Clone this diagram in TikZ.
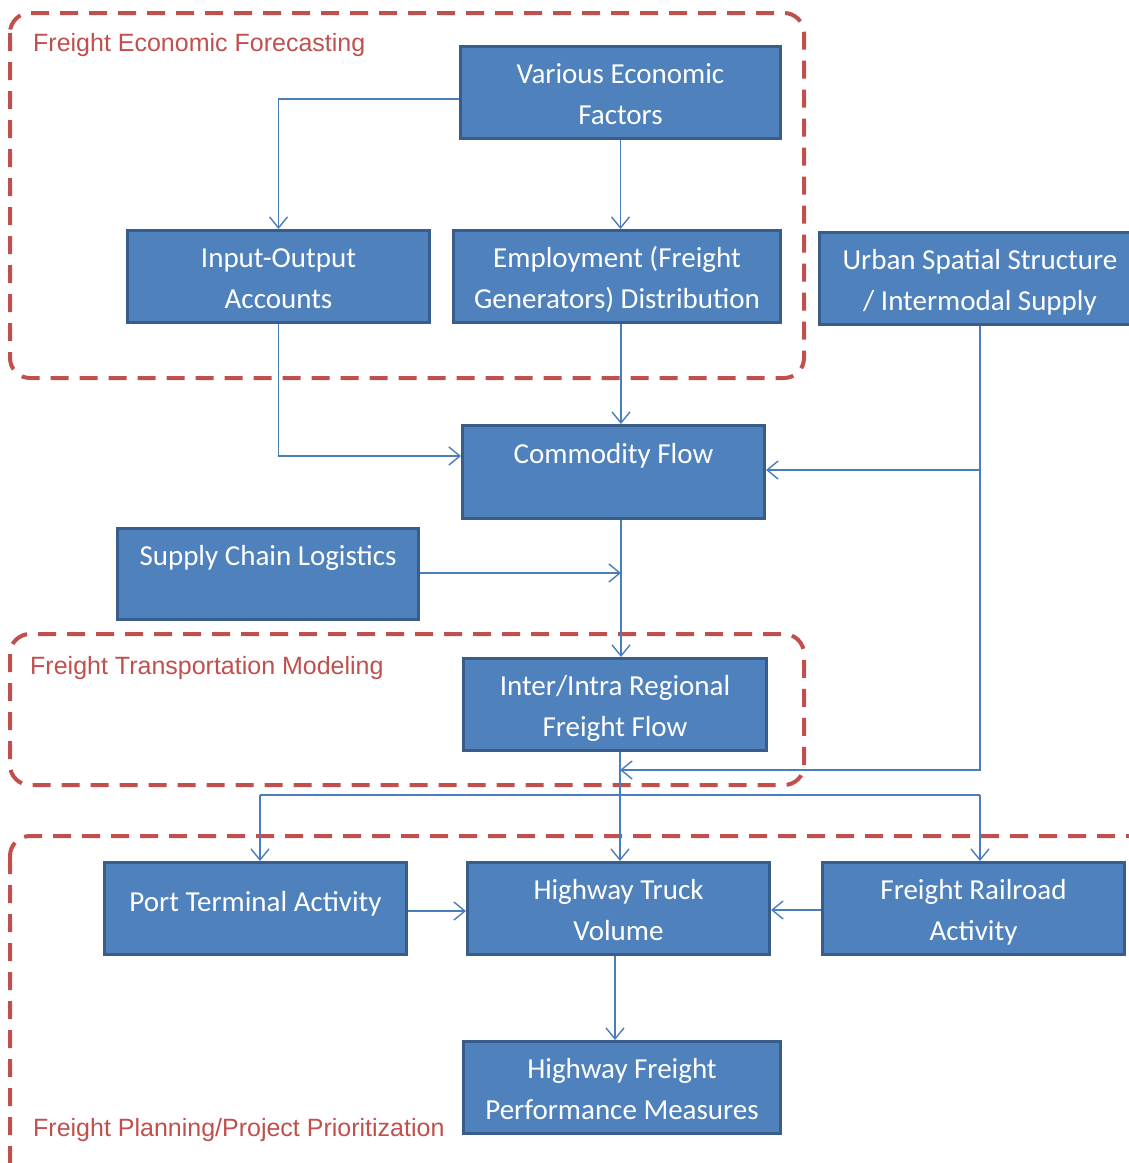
\documentclass[tikz,border=0pt]{standalone}
\usepackage{fontspec}
\setmainfont{Carlito}
\newfontfamily\labfont{Liberation Sans}
\usetikzlibrary{arrows.meta}
\definecolor{boxfill}{HTML}{4F81BD}
\definecolor{boxline}{HTML}{385D8A}
\definecolor{conncol}{HTML}{4A7EBB}
\definecolor{redd}{HTML}{C0504D}
\newcommand\toprl{\rule{0pt}{32pt}}
\newcommand\botrl{\rule[-9pt]{0pt}{0pt}}
\tikzset{
  fbox/.style={draw=boxline, fill=boxfill, line width=3pt, text=white, inner sep=0pt,
    align=center, font=\fontsize{29}{41}\selectfont},
  conn/.style={draw=conncol, line width=1.4pt, -{Straight Barb[length=11pt,width=18pt,line width=1.4pt]}},
  plain/.style={draw=conncol, line width=1.4pt},
  region/.style={draw=redd, line width=4pt, dash pattern=on 18pt off 11pt, rounded corners=20pt},
  reglab/.style={text=redd, font=\labfont\fontsize{25}{30}\selectfont, anchor=base west, inner sep=0pt}
}
\begin{document}
\begin{tikzpicture}[x=1pt,y=-1pt]
\useasboundingbox (0,0) rectangle (1129,1163);
\clip (0,0) rectangle (1129,1163);
\fill[white] (0,0) rectangle (1129,1163);

% regions
\draw[region] (10,13) rectangle (804,378);
\draw[region] (10,634) rectangle (804,785);
\draw[region] (10,836) rectangle (1150,1185);
\node[reglab] (lab1) at (33,51) {Freight Economic Forecasting};
\node[reglab] (lab2) at (30,674) {Freight Transportation Modeling};
\node[reglab] (lab3) at (33,1136) {Freight Planning/Project Prioritization};

% boxes
\node[fbox, minimum width=320pt, minimum height=92pt] (various) at (620.5,92.5) {\toprl Various Economic\\Factors\botrl};
\node[fbox, minimum width=302pt, minimum height=92pt] (io) at (278.5,276.5) {\toprl Input-Output\\Accounts\botrl};
\node[fbox, minimum width=327pt, minimum height=92pt] (emp) at (617,276.5) {\toprl Employment (Freight\\Generators) Distribution\botrl};
\node[fbox, minimum width=321pt, minimum height=92pt] (urban) at (980,278.5) {\toprl Urban Spatial Structure\\/ Intermodal Supply\botrl};
\node[fbox, minimum width=302pt, minimum height=93pt] (comm) at (613.5,472) {\toprl Commodity Flow\\\botrl};
\node[fbox, minimum width=301pt, minimum height=91pt] (scl) at (268,574) {\toprl Supply Chain Logistics\\\botrl};
\node[fbox, minimum width=303pt, minimum height=92pt] (inter) at (615,704.5) {\toprl Inter/Intra Regional\\Freight Flow\botrl};
\node[fbox, minimum width=302pt, minimum height=92pt] (port) at (255.5,908.5) {Port Terminal Activity\rule[-15pt]{0pt}{0pt}};
\node[fbox, minimum width=302pt, minimum height=92pt] (hwy) at (618.5,908.5) {\toprl Highway Truck\\Volume\botrl};
\node[fbox, minimum width=302pt, minimum height=92pt] (rail) at (973.5,908.5) {\toprl Freight Railroad\\Activity\botrl};
\node[fbox, minimum width=317pt, minimum height=92pt] (perf) at (622,1087.5) {\toprl Highway Freight\\Performance Measures\botrl};

% connectors
\draw[conn] (various.west |- {(0,99)}) -| (io.north);
\draw[conn] (various.south) -- (various.south |- emp.north);
\draw[conn] (emp.south -| {(621,0)}) -- (comm.north -| {(621,0)});
\draw[conn] (io.south) |- (comm.west |- {(0,456)});
\coordinate (j1) at (620,770);
\draw[conn] (urban.south) |- (j1);
\draw[conn] (urban.south |- {(0,470)}) -- (comm.east |- {(0,470)});
\draw[conn] (comm.south -| {(621,0)}) -- (inter.north -| {(621,0)});
\coordinate (j2) at (621,573);
\draw[conn] (scl.east |- j2) -- (j2);
\draw[conn] (inter.south -| {(620,0)}) -- (hwy.north -| {(620,0)});
\coordinate (busL) at (260,795);
\coordinate (busR) at (980,795);
\draw[plain] (busL) -- (busR);
\draw[conn] (busL) -- (busL |- port.north);
\draw[conn] (busR) -- (busR |- rail.north);
\draw[conn] (port.east |- {(0,911)}) -- (hwy.west |- {(0,911)});
\draw[conn] (rail.west |- {(0,910)}) -- (hwy.east |- {(0,910)});
\draw[conn] (hwy.south -| {(615,0)}) -- (perf.north -| {(615,0)});
\end{tikzpicture}
\end{document}
